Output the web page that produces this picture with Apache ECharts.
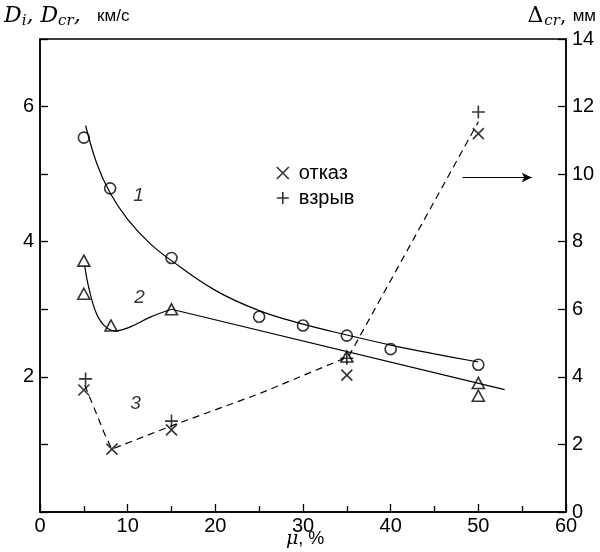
<!DOCTYPE html>
<html><head><meta charset="utf-8">
<script src="https://cdn.jsdelivr.net/npm/echarts@6/dist/echarts.min.js"></script>
<style>html,body{margin:0;padding:0;background:#fff}#c{width:600px;height:552px}</style>
</head><body><div id="c"></div><script>
// ---- data ----
const xTickLabels = [0, 10, 20, 30, 40, 50, 60];
const leftTickLabels = [2, 4, 6];
const rightTickLabels = [0, 2, 4, 6, 8, 10, 12, 14];

// curve 1: D_i (circles) and fitted line, left axis
const curve1Points = [[5, 5.54], [8, 4.79], [15, 3.76], [25, 2.89], [30, 2.76], [35, 2.61], [40, 2.41], [50, 2.18]];
const curve1Line = [[5.2, 5.72], [6.5, 5.15], [8, 4.72], [10, 4.33], [12.5, 3.98], [15, 3.72], [20, 3.28], [25, 2.98], [30, 2.78], [35, 2.62], [40, 2.47], [45, 2.34], [50, 2.22]];

// curve 2: D_cr (triangles) and fitted line, left axis
const curve2Points = [[5, 3.72], [5, 3.23], [8.1, 2.76], [15, 3.0], [35, 2.3], [50, 1.91], [50, 1.72]];
const curve2Curve = [[5.1, 3.64], [5.6, 3.3], [6.4, 2.95], [7.4, 2.75], [8.6, 2.68], [10.3, 2.74], [12.5, 2.88], [15, 3.0]];
const curve2Straight = [[15, 3.0], [53, 1.81]];

// curve 3: Delta_cr, right axis
const otkaz = [[5, 3.61], [8.2, 1.86], [15, 2.43], [35, 4.05], [50, 11.2]];
const vzryv = [[5.2, 3.94], [15, 2.69], [35, 4.55], [50, 11.84]];
const curve3Line = [[5.1, 3.75], [6.3, 3.0], [7.3, 2.35], [8.2, 1.86], [15, 2.55], [25, 3.5], [35.2, 4.6], [50, 11.55]];

// arrow pointing to the right axis
const arrowFrom = [48.2, 9.9];
const arrowTo = [56.1, 9.9];

// curve number labels
const curveLabels = [[11.3, 4.67, '1'], [11.4, 3.16, '2'], [10.95, 1.6, '3']];

const crossPath = 'path://M0,0L10,10M10,0L0,10';
const plusPath = 'path://M5,0L5,10M0,5L10,5';
const black = '#000';

const chart = echarts.init(document.getElementById('c'), null, {renderer: 'canvas'});
const axisCommon = {
  axisLine: {show: true, lineStyle: {color: black, width: 1.5}},
  axisTick: {show: true, inside: true, length: 8, lineStyle: {color: black, width: 1.3}},
  splitLine: {show: false},
  axisLabel: {color: black, fontFamily: 'Liberation Sans, Arial, sans-serif', fontSize: 20}
};
const option = {
  backgroundColor: '#fff',
  animation: false,
  grid: {left: 40, right: 34, top: 39, bottom: 40, show: true, borderColor: black, borderWidth: 1.5,
    containLabel: false, outerBoundsMode: 'none'},
  xAxis: Object.assign({}, axisCommon, {
    type: 'value', min: 0, max: 60, interval: 10,
    minorTick: {show: true, splitNumber: 2, length: 6, lineStyle: {color: black, width: 1.3}},
    axisLabel: Object.assign({}, axisCommon.axisLabel, {margin: 4,
      formatter: v => xTickLabels.includes(v) ? String(v) : ''})
  }),
  yAxis: [
    Object.assign({}, axisCommon, {
      type: 'value', min: 0, max: 7, interval: 1, position: 'left',
      axisLabel: Object.assign({}, axisCommon.axisLabel, {margin: 6,
        formatter: v => leftTickLabels.includes(v) ? String(v) : ''})
    }),
    Object.assign({}, axisCommon, {
      type: 'value', min: 0, max: 14, interval: 2, position: 'right',
      axisLabel: Object.assign({}, axisCommon.axisLabel, {margin: 6,
        formatter: v => rightTickLabels.includes(v) ? String(v) : ''})
    })
  ],
  legend: {
    orient: 'vertical', left: 276, top: 163, itemWidth: 12, itemHeight: 12, itemGap: 5, padding: 0,
    textStyle: {fontFamily: 'Liberation Sans, Arial, sans-serif', fontSize: 20, color: black, padding: [0, 0, 0, 5]},
    data: [
      {name: 'отказ', icon: crossPath, itemStyle: {color: 'transparent', borderColor: black, borderWidth: 1.6}},
      {name: 'взрыв', icon: plusPath, itemStyle: {color: 'transparent', borderColor: black, borderWidth: 1.6}}
    ]
  },
  graphic: [
    {type: 'text', left: 4, top: 4, style: {
      text: '{d|D}{s|i}{d|, D}{s|cr}{d|, }{n|  км/с}',
      rich: {
        d: {fontFamily: 'DejaVu Serif, serif', fontStyle: 'italic', fontSize: 22, color: black, lineHeight: 28},
        s: {fontFamily: 'DejaVu Serif, serif', fontStyle: 'italic', fontSize: 15, color: black, lineHeight: 28, padding: [10, 0, 0, 0]},
        n: {fontFamily: 'Liberation Sans, Arial, sans-serif', fontSize: 17, color: black, lineHeight: 28}
      }}},
    {type: 'text', right: 4, top: 4, style: {
      text: '{d|Δ}{s|cr}{c|, }{n|мм}',
      rich: {
        d: {fontFamily: 'DejaVu Serif, serif', fontSize: 22, color: black, lineHeight: 28},
        s: {fontFamily: 'DejaVu Serif, serif', fontStyle: 'italic', fontSize: 15, color: black, lineHeight: 28, padding: [10, 0, 0, 1]},
        c: {fontFamily: 'DejaVu Serif, serif', fontSize: 20, color: black, lineHeight: 28},
        n: {fontFamily: 'Liberation Sans, Arial, sans-serif', fontSize: 17, color: black, lineHeight: 28}
      }}},
    {type: 'text', left: 286, top: 530, style: {
      text: '{mu|μ}{n|, %}',
      rich: {
        mu: {fontFamily: 'DejaVu Serif, serif', fontStyle: 'italic', fontSize: 19, color: black, lineHeight: 22},
        n: {fontFamily: 'Liberation Sans, Arial, sans-serif', fontSize: 18, color: black, lineHeight: 22}
      }}}
  ],
  series: [
    {type: 'line', yAxisIndex: 0, data: curve1Line, smooth: 0.4, showSymbol: false, lineStyle: {color: black, width: 1.2}, silent: true},
    {type: 'scatter', yAxisIndex: 0, data: curve1Points, symbol: 'circle', symbolSize: 11,
      itemStyle: {color: '#fff', borderColor: black, borderWidth: 1.6}},
    {type: 'line', yAxisIndex: 0, data: curve2Curve, smooth: 0.4, showSymbol: false, lineStyle: {color: black, width: 1.2}},
    {type: 'line', yAxisIndex: 0, data: curve2Straight, showSymbol: false, lineStyle: {color: black, width: 1.2}},
    {type: 'scatter', yAxisIndex: 0, data: curve2Points, symbol: 'triangle', symbolSize: [12, 11],
      itemStyle: {color: 'transparent', borderColor: black, borderWidth: 1.6}},
    {type: 'line', yAxisIndex: 1, data: curve3Line, showSymbol: false,
      lineStyle: {color: black, width: 1.2, type: [7, 5]},
      markLine: {silent: true, symbol: ['none', 'arrow'], symbolSize: [7, 10], label: {show: false},
        lineStyle: {color: black, width: 1.2, type: 'solid'},
        data: [[{coord: arrowFrom}, {coord: arrowTo}]]}},
    {type: 'scatter', name: 'отказ', yAxisIndex: 1, data: otkaz, symbol: crossPath, symbolSize: 11,
      itemStyle: {color: 'transparent', borderColor: black, borderWidth: 1.6}},
    {type: 'scatter', name: 'взрыв', yAxisIndex: 1, data: vzryv, symbol: plusPath, symbolSize: 13,
      itemStyle: {color: 'transparent', borderColor: black, borderWidth: 1.6}},
    {type: 'scatter', yAxisIndex: 0, data: curveLabels.map(d => ({value: [d[0], d[1]], name: d[2]})),
      symbolSize: 1, silent: true, itemStyle: {color: 'transparent'},
      label: {show: true, position: [0, 0], align: 'center', verticalAlign: 'middle', formatter: p => p.name, color: black,
        fontFamily: 'Liberation Sans, Arial, sans-serif', fontStyle: 'italic', fontSize: 19}}
  ]
};
chart.setOption(option);
</script></body></html>
